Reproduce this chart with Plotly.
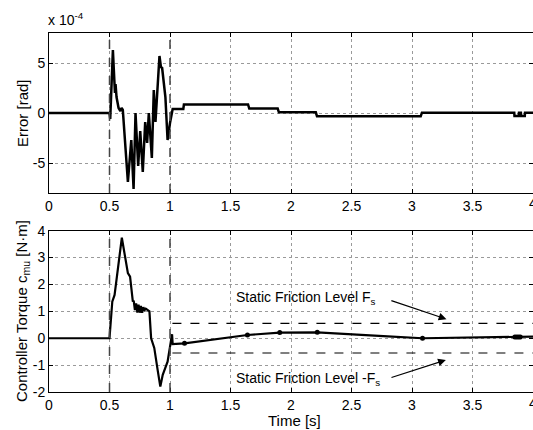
import plotly.graph_objects as go

# ---- data ----
err_t = [0, 0.5, 0.506, 0.528, 0.535, 0.545, 0.55, 0.558, 0.575, 0.59, 0.60, 0.61,
         0.652, 0.68, 0.699, 0.715, 0.737, 0.754, 0.775, 0.795, 0.811, 0.825, 0.85,
         0.866, 0.88, 0.913, 0.925, 0.935, 0.962, 0.98, 1.0, 1.014, 1.022,
         1.11, 1.115, 1.645, 1.655, 1.89, 1.9, 2.205, 2.215, 3.072, 3.082,
         3.845, 3.847, 3.882, 3.884, 3.9, 3.902, 3.932, 3.934, 4.0]
err_v = [0, 0, -0.6, 6.3, 4.5, 2.0, 2.9, 1.6, 0.5, 0.2, 0.5, 0.3,
         -6.9, -2.7, -7.6, 0.0, -5.3, -1.8, -5.9, -0.9, -3.0, 0.0, -4.5,
         2.3, -0.9, 5.7, 4.6, 4.5, 1.6, -2.7, -1.0, -0.2, 0.4,
         0.4, 0.85, 0.85, 0.45, 0.45, 0.07, 0.07, -0.33, -0.33, 0.03,
         0.03, -0.3, -0.3, 0.03, 0.03, -0.3, -0.3, 0.03, 0.03]

tq_t = [0, 0.5, 0.523, 0.542, 0.602, 0.652, 0.67, 0.693, 0.70, 0.71, 0.72, 0.73,
        0.74, 0.75, 0.76, 0.77, 0.78, 0.79, 0.80, 0.815, 0.83, 0.844, 0.87, 0.9,
        0.92, 0.94, 0.968, 0.98, 1.009, 1.017, 1.022, 1.12, 1.64, 1.907, 2.217,
        2.5, 2.8, 3.087, 3.5, 3.85, 3.9, 4.0]
tq_v = [0, 0, 1.36, 1.61, 3.74, 2.42, 2.29, 1.36, 1.4, 1.05, 1.3, 0.95,
        1.25, 0.95, 1.2, 0.95, 1.15, 1.05, 1.1, 1.05, 1.0, 0.0, -0.36, -1.24,
        -1.8, -1.36, -0.99, -0.87, -0.06, 0.15, -0.22, -0.19, 0.12, 0.21, 0.22,
        0.16, 0.07, 0.0, 0.03, 0.05, 0.05, 0.06]

dot_t = [1.12, 1.64, 1.907, 2.217, 3.087, 3.85, 3.865, 3.88, 3.895]
dot_v = [-0.19, 0.12, 0.21, 0.22, 0.0, 0.05, 0.05, 0.05, 0.05]

fs_level = 0.55
event_times = [0.5, 1.0]

x_ticks = [0, 0.5, 1, 1.5, 2, 2.5, 3, 3.5, 4]
x_labels = ["0", "0.5", "1", "1.5", "2", "2.5", "3", "3.5", "4"]
err_ticks = [-5, 0, 5]
err_labels = ["-5", "0", "5"]
tq_ticks = [-2, -1, 0, 1, 2, 3, 4]
tq_labels = ["-2", "-1", "0", "1", "2", "3", "4"]

FONT = "Liberation Sans, Arial, Helvetica, sans-serif"
W, H = 533, 430
ML, MR, MT, MB = 49, 0, 33, 38

fig = go.Figure()
fig.add_trace(go.Scatter(x=err_t, y=err_v, mode="lines",
                         line=dict(color="black", width=2.5),
                         xaxis="x", yaxis="y", showlegend=False))
fig.add_trace(go.Scatter(x=tq_t, y=tq_v, mode="lines",
                         line=dict(color="black", width=2.2),
                         xaxis="x2", yaxis="y2", showlegend=False))
fig.add_trace(go.Scatter(x=dot_t, y=dot_v, mode="markers",
                         marker=dict(color="black", size=5),
                         xaxis="x2", yaxis="y2", showlegend=False))

axis_common = dict(
    range=[0, 4], tickvals=x_ticks, ticktext=x_labels,
    showline=True, linecolor="black", linewidth=1, mirror="ticks",
    ticks="inside", ticklen=4, tickcolor="black",
    showgrid=True, gridcolor="#9a9a9a", griddash="dot", gridwidth=1,
    zeroline=False, tickfont=dict(size=14, color="black"), automargin=False,
)

fig.update_layout(
    width=W, height=H,
    margin=dict(l=ML, r=MR, t=MT, b=MB, autoexpand=False),
    paper_bgcolor="white", plot_bgcolor="white",
    font=dict(family=FONT, size=14, color="black"),
    xaxis=dict(axis_common, anchor="y", domain=[0, 1]),
    yaxis=dict(axis_common, range=[-8, 8], tickvals=err_ticks, ticktext=err_labels,
               domain=[0.5543, 1], anchor="x"),
    xaxis2=dict(axis_common, anchor="y2", domain=[0, 1]),
    yaxis2=dict(axis_common, range=[-2, 4], tickvals=tq_ticks, ticktext=tq_labels,
                domain=[0, 0.4493], anchor="x2"),
)

shapes = []
for t in event_times:
    for xr, yr in [("x", "y domain"), ("x2", "y2 domain")]:
        shapes.append(dict(type="line", xref=xr, yref=yr, x0=t, x1=t, y0=0, y1=1,
                           line=dict(color="#444444", width=1.5, dash="dash")))
for lvl in [fs_level, -fs_level]:
    shapes.append(dict(type="line", xref="x2", yref="y2", x0=1.02, x1=4, y0=lvl, y1=lvl,
                       line=dict(color="black", width=1.2, dash="dash")))
fig.update_layout(shapes=shapes)

pw = W - ML - MR
ph = H - MT - MB
def px_x(px):
    return (px - ML) / pw
def px_y(py):
    return (H - MB - py) / ph

# axis titles
fig.add_annotation(xref="paper", yref="paper", x=px_x(23), y=px_y(113), xanchor="center", yanchor="middle",
                   text="Error [rad]", textangle=-90, showarrow=False, font=dict(size=15))
fig.add_annotation(xref="paper", yref="paper", x=px_x(22), y=px_y(311), xanchor="center", yanchor="middle",
                   text="Controller Torque c<sub>mu</sub> [N·m]", textangle=-90, showarrow=False,
                   font=dict(size=15))
fig.add_annotation(xref="paper", yref="paper", x=px_x(294), y=px_y(420), xanchor="center", yanchor="middle",
                   text="Time [s]", showarrow=False, font=dict(size=15))

# last x tick label, partly cut at the right edge as in the reference
for xr, ypx in [("x", 203), ("x2", 403)]:
    fig.add_annotation(xref=xr, yref="paper", x=x_ticks[-1], y=px_y(ypx), xanchor="center",
                       yanchor="middle", text=x_labels[-1], showarrow=False, font=dict(size=14))

fig.add_annotation(xref="paper", yref="paper", x=px_x(46), y=px_y(30), xanchor="left", yanchor="bottom",
                   text="x 10<sup>-4</sup>", showarrow=False, font=dict(size=14))
fig.add_annotation(xref="x2", yref="y2", x=1.53, y=1.5, xanchor="left", yanchor="middle",
                   text="Static Friction Level F<sub>s</sub>", showarrow=False, font=dict(size=14))
fig.add_annotation(xref="x2", yref="y2", x=1.53, y=-1.5, xanchor="left", yanchor="middle",
                   text="Static Friction Level -F<sub>s</sub>", showarrow=False, font=dict(size=14))
fig.add_annotation(xref="x2", yref="y2", x=3.285, y=0.71, ax=2.817, ay=1.42,
                   axref="x2", ayref="y2", text="", showarrow=True,
                   arrowhead=2, arrowsize=1.3, arrowwidth=1.2, arrowcolor="black")
fig.add_annotation(xref="x2", yref="y2", x=3.28, y=-0.81, ax=2.818, ay=-1.48,
                   axref="x2", ayref="y2", text="", showarrow=True,
                   arrowhead=2, arrowsize=1.3, arrowwidth=1.2, arrowcolor="black")

fig.write_html("out.html", config={"displayModeBar": False},
               post_script="document.body.style.margin='0px';document.body.style.overflow='hidden';")
